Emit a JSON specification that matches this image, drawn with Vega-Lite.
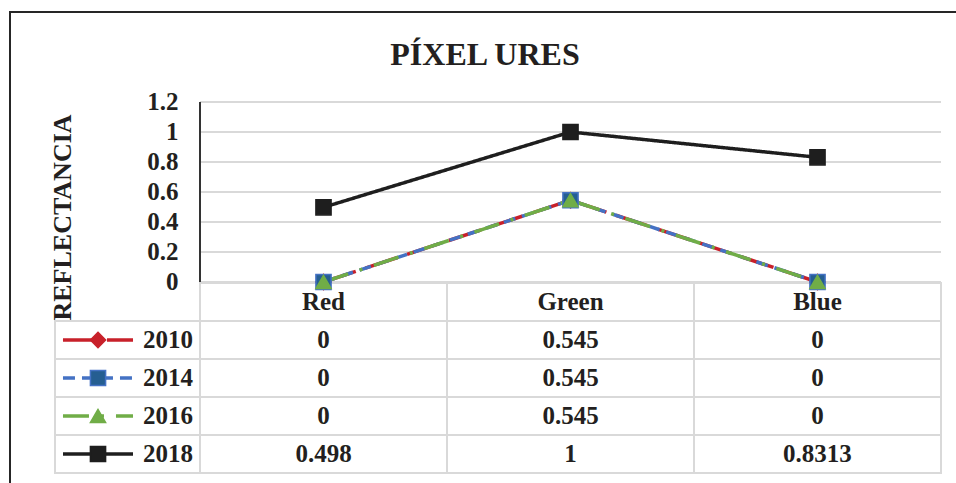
{
  "$schema": "https://vega.github.io/schema/vega-lite/v6.json",
  "width": 950,
  "height": 475,
  "autosize": "none",
  "padding": {"left": 10, "top": 12, "right": 0, "bottom": 0},
  "title": {"text": "PÍXEL URES", "font": "Liberation Serif", "fontSize": 32, "fontWeight": "bold", "color": "#231f20", "anchor": "middle", "offset": -60},
  "config": {
    "view": {"stroke": "#262626", "strokeWidth": 2},
    "text": {"font": "Liberation Serif", "fontSize": 25, "fontWeight": "bold", "color": "#231f20"}
  },
  "data": {"values": [
    {"year": "2010", "band": "Red", "value": 0},
    {"year": "2010", "band": "Green", "value": 0.545},
    {"year": "2010", "band": "Blue", "value": 0},
    {"year": "2014", "band": "Red", "value": 0},
    {"year": "2014", "band": "Green", "value": 0.545},
    {"year": "2014", "band": "Blue", "value": 0},
    {"year": "2016", "band": "Red", "value": 0},
    {"year": "2016", "band": "Green", "value": 0.545},
    {"year": "2016", "band": "Blue", "value": 0},
    {"year": "2018", "band": "Red", "value": 0.498},
    {"year": "2018", "band": "Green", "value": 1},
    {"year": "2018", "band": "Blue", "value": 0.8313}
  ]},
  "layer": [
    {
      "layer": [
        {
          "data": {"values": [{"g": 0}, {"g": 0.2}, {"g": 0.4}, {"g": 0.6}, {"g": 0.8}, {"g": 1}, {"g": 1.2}]},
          "mark": {"type": "rule", "stroke": "#d9d9d9", "strokeWidth": 2},
          "encoding": {
            "x": {"datum": "Red", "bandPosition": 0, "axis": null, "scale": {"type": "band", "domain": ["Red", "Green", "Blue"], "paddingInner": 0, "paddingOuter": 0.42308, "align": 0.90909}},
            "x2": {"datum": "Blue", "bandPosition": 1},
            "y": {"field": "g", "type": "quantitative",
              "scale": {"domain": [-1.36667, 1.8], "nice": false, "zero": false},
              "axis": {"offset": -190, "values": [0, 0.2, 0.4, 0.6, 0.8, 1, 1.2], "format": "~g", "grid": false, "domain": false, "ticks": false, "labelPadding": 22,
                "labelFont": "Liberation Serif", "labelFontSize": 25, "labelFontWeight": "bold", "labelColor": "#231f20",
                "title": "REFLECTANCIA", "titleFont": "Liberation Serif", "titleFontSize": 26, "titleFontWeight": "bold", "titleColor": "#231f20",
                "titleAngle": 270, "titleX": -130, "titleY": 205, "titleBaseline": "alphabetic", "titleAlign": "center"}}
          }
        },
        {
          "data": {"values": [{}]},
          "mark": {"type": "rule", "stroke": "#333333", "strokeWidth": 2},
          "encoding": {
            "x": {"datum": "Red", "bandPosition": 0, "axis": null},
            "y": {"datum": 0, "type": "quantitative",
              "axis": {"offset": -190, "values": [0, 0.2, 0.4, 0.6, 0.8, 1, 1.2], "format": "~g", "grid": false, "domain": false, "ticks": false, "labelPadding": 22,
                "labelFont": "Liberation Serif", "labelFontSize": 25, "labelFontWeight": "bold", "labelColor": "#231f20",
                "title": "REFLECTANCIA", "titleFont": "Liberation Serif", "titleFontSize": 26, "titleFontWeight": "bold", "titleColor": "#231f20",
                "titleAngle": 270, "titleX": -130, "titleY": 205, "titleBaseline": "alphabetic", "titleAlign": "center"}},
            "y2": {"datum": 1.2}
          }
        }
      ]
    },
    {
      "layer": [
        {
          "mark": {"type": "rect", "fillOpacity": 0, "stroke": "#d9d9d9", "strokeWidth": 2},
          "encoding": {
            "x": {"field": "band", "type": "nominal", "axis": null, "scale": {"type": "band", "domain": ["Red", "Green", "Blue"], "paddingInner": 0, "paddingOuter": 0.42308, "align": 0.90909}},
            "y": {"field": "year", "type": "nominal", "axis": null, "scale": {"type": "band", "domain": ["header", "2010", "2014", "2016", "2018"], "paddingInner": 0, "paddingOuter": 0, "range": [271, 461]}}
          }
        },
        {
          "transform": [{"filter": "datum.year === '2010'"}],
          "mark": {"type": "rect", "fillOpacity": 0, "stroke": "#d9d9d9", "strokeWidth": 2},
          "encoding": {
            "x": {"field": "band", "type": "nominal", "axis": null},
            "y": {"datum": "header", "axis": null}
          }
        },
        {
          "transform": [{"filter": "datum.year === '2010'"}],
          "mark": {"type": "text", "baseline": "middle", "align": "center"},
          "encoding": {
            "x": {"field": "band", "type": "nominal", "axis": null},
            "y": {"datum": "header", "axis": null},
            "text": {"field": "band", "type": "nominal"}
          }
        },
        {
          "mark": {"type": "text", "baseline": "middle", "align": "center"},
          "encoding": {
            "x": {"field": "band", "type": "nominal", "axis": null},
            "y": {"field": "year", "type": "nominal", "axis": null},
            "text": {"field": "value", "type": "nominal"}
          }
        }
      ]
    },
    {
      "transform": [{"filter": "datum.band === 'Red'"}],
      "layer": [
        {
          "mark": {"type": "rect", "fillOpacity": 0, "stroke": "#d9d9d9", "strokeWidth": 2},
          "encoding": {
            "x": {"datum": "legend", "axis": null, "scale": {"type": "band", "domain": ["legend"], "paddingInner": 0, "paddingOuter": 0, "range": [45, 190]}},
            "y": {"field": "year", "type": "nominal", "axis": null, "scale": {"type": "band", "domain": ["header", "2010", "2014", "2016", "2018"], "paddingInner": 0, "paddingOuter": 0, "range": [271, 461]}}
          }
        },
        {
          "mark": {"type": "rule", "strokeWidth": 3.5},
          "encoding": {
            "x": {"datum": "legend", "bandPosition": 0.055, "axis": null},
            "x2": {"datum": "legend", "bandPosition": 0.538},
            "y": {"field": "year", "type": "nominal", "axis": null},
            "color": {"field": "year", "type": "nominal", "legend": null},
            "strokeDash": {"field": "year", "type": "nominal", "legend": null}
          }
        },
        {
          "mark": {"type": "point", "filled": true, "size": 230, "strokeWidth": 1.5, "opacity": 1},
          "encoding": {
            "x": {"datum": "legend", "bandPosition": 0.2966, "axis": null},
            "y": {"field": "year", "type": "nominal", "axis": null},
            "shape": {"field": "year", "type": "nominal", "legend": null},
            "fill": {"field": "year", "type": "nominal", "legend": null},
            "stroke": {"field": "year", "type": "nominal", "legend": null}
          }
        },
        {
          "mark": {"type": "text", "baseline": "middle", "align": "right"},
          "encoding": {
            "x": {"datum": "legend", "bandPosition": 0.952, "axis": null},
            "y": {"field": "year", "type": "nominal", "axis": null},
            "text": {"field": "year", "type": "nominal"}
          }
        }
      ]
    },
    {
      "layer": [
        {
          "mark": {"type": "line", "strokeWidth": 3.5},
          "encoding": {
            "x": {"field": "band", "type": "nominal", "axis": null, "scale": {"type": "band", "domain": ["Red", "Green", "Blue"], "paddingInner": 0, "paddingOuter": 0.42308, "align": 0.90909}},
            "y": {"field": "value", "type": "quantitative", "axis": null,
              "scale": {"domain": [-1.36667, 1.8], "nice": false, "zero": false}},
            "color": {"field": "year", "type": "nominal", "legend": null,
              "scale": {"domain": ["2010", "2014", "2016", "2018"], "range": ["#C8202A", "#4472C4", "#70AD47", "#1E1E1E"]}},
            "strokeDash": {"field": "year", "type": "nominal", "legend": null,
              "scale": {"domain": ["2010", "2014", "2016", "2018"], "range": [[34, 10], [12, 7], [26, 12, 3, 12], [1, 0]]}}
          }
        },
        {
          "mark": {"type": "point", "filled": true, "size": 230, "strokeWidth": 1.5, "opacity": 1},
          "encoding": {
            "x": {"field": "band", "type": "nominal", "axis": null},
            "y": {"field": "value", "type": "quantitative", "axis": null},
            "shape": {"field": "year", "type": "nominal", "legend": null,
              "scale": {"domain": ["2010", "2014", "2016", "2018"], "range": ["diamond", "square", "triangle-up", "square"]}},
            "fill": {"field": "year", "type": "nominal", "legend": null,
              "scale": {"domain": ["2010", "2014", "2016", "2018"], "range": ["#C8202A", "#255E91", "#70AD47", "#1E1E1E"]}},
            "stroke": {"field": "year", "type": "nominal", "legend": null,
              "scale": {"domain": ["2010", "2014", "2016", "2018"], "range": ["#C8202A", "#4472C4", "#70AD47", "#1E1E1E"]}}
          }
        }
      ]
    }
  ],
  "resolve": {"scale": {"x": "independent", "y": "independent"}}
}
